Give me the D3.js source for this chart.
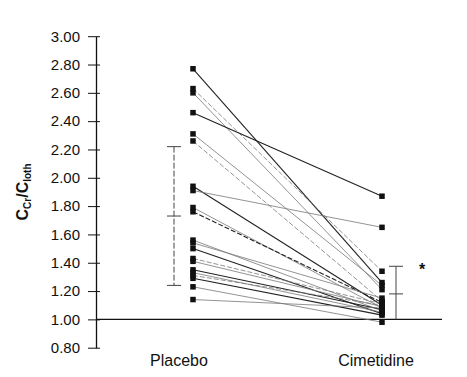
<!DOCTYPE html>
<html><head><meta charset="utf-8">
<script src="https://cdn.jsdelivr.net/npm/d3@7"></script>
<style>body{margin:0;background:#fff}svg{display:block}text{font-family:Arial,"Liberation Sans",sans-serif;fill:#111}</style>
</head><body><svg id="c" width="467" height="377"></svg>
<script>
const categories = ["Placebo", "Cimetidine"];
const placebo    = [2.77,2.63,2.60,2.46,2.31,2.26,1.94,1.91,1.79,1.76,1.56,1.54,1.50,1.43,1.41,1.35,1.33,1.31,1.29,1.23,1.14];
const cimetidine = [1.26,1.34,1.21,1.87,1.24,1.13,1.10,1.65,1.08,1.12,1.06,1.15,1.04,1.11,1.09,1.07,1.05,1.10,1.03,0.98,1.08];
const means = [1.73, 1.18];
const sds   = [0.49, 0.195];
const yTicks = [0.80,1.00,1.20,1.40,1.60,1.80,2.00,2.20,2.40,2.60,2.80,3.00];

const svg = d3.select("#c");
const y = d3.scaleLinear().domain([0.8, 3.0]).range([347.7, 36.2]);
const x = d3.scalePoint().domain(categories).range([193, 382]);
const axX = 96;

// y axis
const yAxis = d3.axisLeft(y).tickValues(yTicks).tickFormat(d3.format(".2f")).tickSizeInner(8).tickSizeOuter(0).tickPadding(8);
const g = svg.append("g").attr("transform", `translate(${axX},0)`).call(yAxis);
g.select(".domain").attr("stroke","#111").attr("stroke-width",1.3);
g.selectAll(".tick line").attr("x2",4).attr("x1",-8).attr("stroke","#111");
g.selectAll(".tick text").attr("font-size",15).attr("font-family","Arial, 'Liberation Sans', sans-serif").attr("fill","#111").attr("x",-16);

// reference line at 1.00
svg.append("line").attr("x1",axX).attr("x2",442).attr("y1",y(1)).attr("y2",y(1)).attr("stroke","#111").attr("stroke-width",1.4);

// y title
const t = svg.append("text").attr("transform",`translate(28,${(y(1.9))}) rotate(-90)`).attr("text-anchor","middle").attr("font-size",16).attr("font-weight","bold");
t.append("tspan").text("C");
t.append("tspan").text("Cr").attr("font-size",10).attr("dy",3);
t.append("tspan").text("/C").attr("dy",-3);
t.append("tspan").text("Ioth").attr("font-size",10).attr("dy",3);

// lines
const pairs = placebo.map((p,i)=>({p, c: cimetidine[i], i}));
svg.append("g").selectAll("line").data(pairs).join("line")
  .attr("x1",x("Placebo")).attr("x2",x("Cimetidine"))
  .attr("y1",d=>y(d.p)).attr("y2",d=>y(d.c))
  .attr("stroke",(d)=> d.i%3===0 ? "#222" : "#777")
  .attr("stroke-width",(d)=> d.i%3===0 ? 1.1 : 0.8)
  .attr("stroke-dasharray",(d)=> d.i%4===1 ? "5,2" : null);

// markers
const ms = 5.5;
[["Placebo",placebo],["Cimetidine",cimetidine]].forEach(([cat,vals])=>{
  svg.append("g").selectAll("rect").data(vals).join("rect")
    .attr("x",x(cat)-ms/2).attr("y",d=>y(d)-ms/2).attr("width",ms).attr("height",ms).attr("fill","#111");
});

// error bars
const ebOff = [-19, 14];
categories.forEach((cat,i)=>{
  const cx = x(cat)+ebOff[i];
  const top = means[i]+sds[i], bot = Math.max(means[i]-sds[i], 1.0);
  const eg = svg.append("g").attr("stroke","#444").attr("stroke-width",1);
  eg.append("line").attr("x1",cx).attr("x2",cx).attr("y1",y(top)).attr("y2",y(bot)).attr("stroke-dasharray", i===0 ? "6,2" : null);
  eg.append("line").attr("x1",cx-7).attr("x2",cx+7).attr("y1",y(top)).attr("y2",y(top));
  eg.append("line").attr("x1",cx-7).attr("x2",cx+7).attr("y1",y(means[i])).attr("y2",y(means[i]));
  if (i===0) eg.append("line").attr("x1",cx-7).attr("x2",cx+7).attr("y1",y(means[i]-sds[i])).attr("y2",y(means[i]-sds[i]));
});
svg.append("text").attr("x",x("Cimetidine")+40).attr("y",y(1.34)+4).attr("text-anchor","middle").attr("font-size",16).attr("font-weight","bold").text("*");

// category labels
categories.forEach((cat,i)=>{
  svg.append("text").attr("x",x(cat)+(i===0?-14:-6)).attr("y",366).attr("text-anchor","middle").attr("font-size",16).text(cat);
});
</script></body></html>
